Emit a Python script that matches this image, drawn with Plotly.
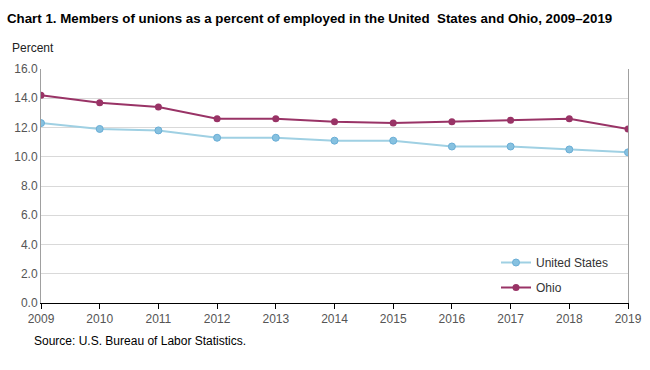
import plotly.graph_objects as go

years = [2009, 2010, 2011, 2012, 2013, 2014, 2015, 2016, 2017, 2018, 2019]
us = [12.3, 11.9, 11.8, 11.3, 11.3, 11.1, 11.1, 10.7, 10.7, 10.5, 10.3]
ohio = [14.2, 13.7, 13.4, 12.6, 12.6, 12.4, 12.3, 12.4, 12.5, 12.6, 11.9]
y_ticks = [0, 2, 4, 6, 8, 10, 12, 14, 16]

FONT = "Liberation Sans, Arial, sans-serif"

fig = go.Figure()
fig.add_trace(go.Scatter(x=years, y=us, name="United States", mode="lines+markers",
                         legendgroup="us",
                         line=dict(color="#9fd0e3", width=2),
                         marker=dict(color="#86c1e0", size=7, line=dict(color="#6aaed6", width=1))))
fig.add_trace(go.Scatter(x=years, y=ohio, name="Ohio", mode="lines+markers",
                         legendgroup="oh",
                         line=dict(color="#993366", width=2),
                         marker=dict(color="#993366", size=7)))

L, R, T, B = 41, 22, 69, 67
W, H = 650, 370
pw = W - L - R
ph = H - T - B
def px(x):
    return (x - L) / pw
def py(y):
    return (H - B - y) / ph

fig.update_layout(
    width=W, height=H,
    margin=dict(l=L, r=R, t=T, b=B, autoexpand=False),
    paper_bgcolor="white", plot_bgcolor="white",
    font=dict(family=FONT, size=12, color="#444"),
    showlegend=True,
    legend=dict(x=px(496), y=py(248), xanchor="left", yanchor="top",
                bgcolor="rgba(0,0,0,0)", font=dict(size=12, color="#333"),
                tracegroupgap=6, itemwidth=30),
    xaxis=dict(range=[2009, 2019], tickvals=years, ticktext=[str(y) for y in years],
               showgrid=False, showline=True, linecolor="black", linewidth=1,
               ticks="outside", ticklen=5, tickcolor="black", zeroline=False,
               automargin=False, tickfont=dict(size=12, color="#555")),
    yaxis=dict(range=[0, 16], tickvals=y_ticks, ticktext=[f"{v:.1f}" for v in y_ticks],
               showgrid=True, gridcolor="#d9d9d9", showline=True, linecolor="#a0a0a0",
               mirror=True, zeroline=False, ticks="", automargin=False,
               tickfont=dict(size=12, color="#555")),
    annotations=[
        dict(text="<b>Chart 1. Members of unions as a percent of employed in the United  States and Ohio, 2009\u20132019</b>",
             x=px(5), y=py(18), xref="paper", yref="paper", showarrow=False, xanchor="left", yanchor="middle",
             font=dict(size=13.3, color="black")),
        dict(text="Percent", x=px(10), y=py(48), xref="paper", yref="paper", showarrow=False,
             xanchor="left", yanchor="middle", font=dict(size=12, color="#222")),
        dict(text="Source: U.S. Bureau of Labor Statistics.", x=px(32), y=py(341), xref="paper", yref="paper",
             showarrow=False, xanchor="left", yanchor="middle", font=dict(size=12, color="black")),
    ],
)

fig.write_html("out.html", config={"displayModeBar": False},
               post_script="document.body.style.margin='0';")
